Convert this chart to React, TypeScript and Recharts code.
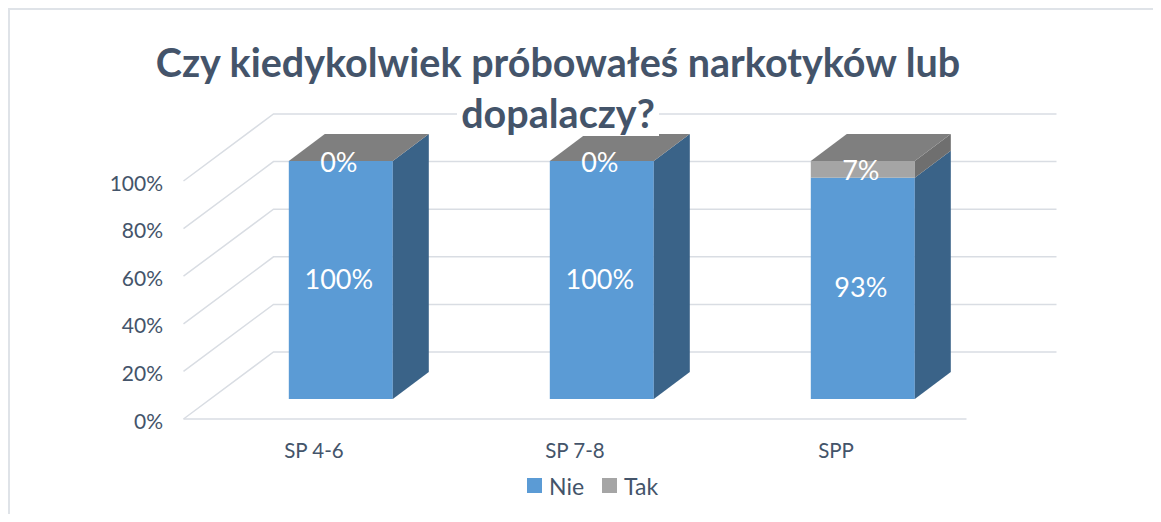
import React from 'react';
import { BarChart, Bar, XAxis, YAxis, CartesianGrid, Legend } from 'recharts';

const categories = ['SP 4-6', 'SP 7-8', 'SPP'];
const nieValues = [100, 100, 93];
const takValues = [0, 0, 7];
const yTicks = [0, 20, 40, 60, 80, 100];
const seriesNames = ['Nie', 'Tak'];
const titleLines = ['Czy kiedykolwiek próbowałeś narkotyków lub', 'dopalaczy?'];

const data = categories.map((c, i) => ({ name: c, Nie: nieValues[i], Tak: takValues[i] }));

const FONT = 'Lato, Carlito, Calibri, sans-serif';
const TEXT = '#44546A';
const GRID = '#D9DDE3';
const DX = 36;
const DY = 27;
const FRONT_DX = -27;
const FRONT_DY = 20;
const BACK_DX = 63;
const BACK_DY = -47;

const W = 1145;
const H = 506;
const X_AXIS_H = 30;
const Y_AXIS_W = 60;
const M = { top: 153, right: 159.5, bottom: 85, left: 142.5 };
const PLOT_BOTTOM = H - M.bottom - X_AXIS_H;

const makeShape = (dataKey: string, front: string, side: string, top: string | null) => (props: any) => {
  const { x, y, width, height, payload } = props;
  if (x == null || y == null) return <g />;
  const w = width;
  const h = Math.max(0, height || 0);
  const v = payload ? payload[dataKey] : null;
  return (
    <g>
      <rect x={x} y={y} width={w} height={h} fill={front} />
      <polygon
        points={`${x + w},${y} ${x + w + DX},${y - DY} ${x + w + DX},${y + h - DY} ${x + w},${y + h}`}
        fill={side}
      />
      {top && (
        <polygon
          points={`${x},${y} ${x + w},${y} ${x + w + DX},${y - DY} ${x + DX},${y - DY}`}
          fill={top}
        />
      )}
      {v != null && (
        <text
          x={x + w / 2 - 2}
          y={y + h / 2 - (h > 150 ? 2 : 0)}
          textAnchor="middle"
          dominantBaseline="central"
          fill="#FFFFFF"
          fontFamily={FONT}
          fontSize={27}
        >
          {`${v}%`}
        </text>
      )}
    </g>
  );
};

const nieShape = makeShape('Nie', '#5B9BD5', '#3A6388', null);
const takShape = makeShape('Tak', '#A5A5A5', '#6F6F6F', '#7F7F7F');

const gridLine = (props: any) => {
  const { x1, x2, y1, index } = props;
  const fx = x1 + FRONT_DX;
  const fy = y1 + FRONT_DY;
  const bx = x1 + BACK_DX;
  const by = y1 + BACK_DY;
  const isFloor = Math.abs(y1 - PLOT_BOTTOM) < 1;
  return (
    <g key={`g-${index}`}>
      <path d={`M${fx},${fy} L${bx},${by} L${x2 + BACK_DX},${by}`} stroke={GRID} strokeWidth={1.5} fill="none" />
      {isFloor && <line x1={fx} y1={fy} x2={x2 + FRONT_DX} y2={fy} stroke={GRID} strokeWidth={1.5} />}
    </g>
  );
};

const YTick = (props: any) => {
  const { x, y, payload } = props;
  return (
    <text x={x - 47.5} y={y + 29.5} textAnchor="end" fill={TEXT} fontFamily={FONT} fontSize={21}>
      {`${payload.value}%`}
    </text>
  );
};

const XTick = (props: any) => {
  const { x, y, payload } = props;
  return (
    <text x={x + FRONT_DX} y={y + 59} textAnchor="middle" fill={TEXT} fontFamily={FONT} fontSize={20.5}>
      {payload.value}
    </text>
  );
};

const renderLegend = (props: any) => {
  const payload = props.payload || [];
  return (
    <div style={{ display: 'flex', alignItems: 'center', fontFamily: FONT, fontSize: 23, lineHeight: '26px', color: TEXT }}>
      {payload.map((e: any, i: number) => (
        <div key={i} style={{ display: 'flex', alignItems: 'center', marginRight: i === 0 ? 18 : 0 }}>
          <span style={{ display: 'inline-block', width: 15, height: 15, background: e.color, marginRight: 7 }} />
          <span>{e.value}</span>
        </div>
      ))}
    </div>
  );
};

export default function App() {
  return (
    <div style={{ position: 'relative', width: W, height: H, background: '#FFFFFF' }}>
      <div style={{ position: 'absolute', left: 0, top: 0, width: W, height: 1.5, background: '#DFE3E8' }} />
      <div style={{ position: 'absolute', left: 0, top: 0, width: 2, height: H, background: '#DFE3E8' }} />
      <BarChart width={W} height={H} data={data} margin={M} barCategoryGap="30%">
        <CartesianGrid vertical={false} horizontal={gridLine} />
        <XAxis
          dataKey="name"
          height={X_AXIS_H}
          axisLine={false}
          tickLine={false}
          tickSize={0}
          tickMargin={0}
          tick={<XTick />}
          interval={0}
        />
        <YAxis
          type="number"
          domain={[0, 100]}
          ticks={yTicks}
          width={Y_AXIS_W}
          axisLine={false}
          tickLine={false}
          tickSize={0}
          tickMargin={0}
          tick={<YTick />}
          interval={0}
        />
        <Bar dataKey="Nie" name={seriesNames[0]} stackId="a" fill="#5B9BD5" shape={nieShape} isAnimationActive={false} />
        <Bar dataKey="Tak" name={seriesNames[1]} stackId="a" fill="#A5A5A5" shape={takShape} isAnimationActive={false} />
        <Legend
          layout="horizontal"
          verticalAlign="middle"
          align="center"
          content={renderLegend}
          wrapperStyle={{ left: 519, top: 464.5, width: 200 }}
        />
      </BarChart>
      <div
        style={{
          position: 'absolute',
          left: 0,
          top: 27.5,
          width: 1100,
          textAlign: 'center',
          fontFamily: FONT,
          fontWeight: 700,
          fontSize: 39.5,
          lineHeight: '51px',
          color: TEXT,
          pointerEvents: 'none',
        }}
      >
        <div>{titleLines[0]}</div>
        <div>
          <span style={{ background: '#FFFFFF', padding: '0 4px' }}>{titleLines[1]}</span>
        </div>
      </div>
    </div>
  );
}
